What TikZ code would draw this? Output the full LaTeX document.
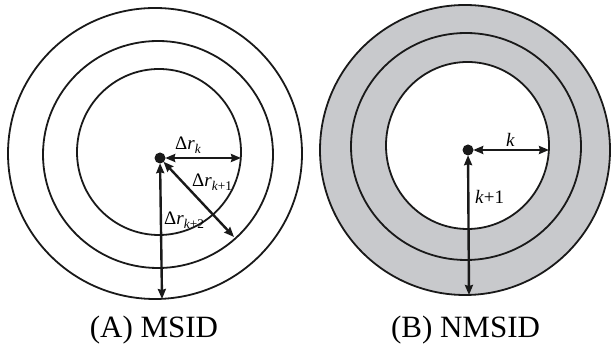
\documentclass[tikz,border=0pt]{standalone}
\usepackage{fontspec}
\setmainfont{Liberation Serif}
\usetikzlibrary{arrows.meta}
\definecolor{ringgray}{RGB}{200,201,204}
\tikzset{
  ring/.style={line width=1.8pt, draw=black!90},
  dotnode/.style={circle, fill=black!90, inner sep=0pt, minimum size=11pt},
  dimarrow/.style={line width=2.4pt, draw=black!90, {Stealth[length=10pt,width=8pt,inset=1pt]}-{Stealth[length=10pt,width=8pt,inset=1pt]}, shorten <=-0.5pt},
  lbl/.style={font=\fontsize{19}{21}\selectfont, inner sep=0pt, anchor=base west},
  caption/.style={font=\fontsize{31}{34}\selectfont, inner sep=0pt, anchor=base}
}
\begin{document}
\begin{tikzpicture}[x=1pt,y=1pt]
\useasboundingbox (0,0) rectangle (612,344);
% ---- (A) MSID ----
\draw[ring] (155,190.5) ellipse [x radius=147pt, y radius=145.5pt];
\draw[ring] (158,189.5) ellipse [x radius=115pt, y radius=113.5pt];
\draw[ring] (159,192) ellipse [x radius=82pt, y radius=83pt];
\node[dotnode] (dA) at (160,186) {};
\coordinate (eA1) at (241,186);
\coordinate (eA2) at (234,107);
\coordinate (eA3) at (162,45);
\draw[dimarrow] (dA) -- (eA1);
\draw[dimarrow] (dA) -- (eA2);
\draw[dimarrow] (dA) -- (eA3);
\node[lbl] (lA1) at (175,194) {Δ\textit{r}\textsubscript{\textit{k}}};
\node[lbl] (lA2) at (192,157) {Δ\textit{r}\textsubscript{\textit{k}+1}};
\node[lbl] (lA3) at (164,119) {Δ\textit{r}\textsubscript{\textit{k}+2}};
\node[caption] (capA) at (154,6) {(A) MSID};
% ---- (B) NMSID ----
\fill[ringgray] (465,194) ellipse [x radius=145pt, y radius=145pt];
\fill[white] (467.5,198.5) ellipse [x radius=81.5pt, y radius=83.5pt];
\draw[ring] (465,194) ellipse [x radius=145pt, y radius=145pt];
\draw[ring] (466,197.5) ellipse [x radius=115pt, y radius=113.5pt];
\draw[ring] (467.5,198.5) ellipse [x radius=81.5pt, y radius=83.5pt];
\node[dotnode] (dB) at (468,194) {};
\coordinate (eB1) at (549,194);
\coordinate (eB2) at (469,49);
\draw[dimarrow] (dB) -- (eB1);
\draw[dimarrow] (dB) -- (eB2);
\node[lbl, anchor=base] (lB1) at (510.5,197) {\textit{k}};
\node[lbl] (lB2) at (475,140) {\textit{k}+1};
\node[caption] (capB) at (465.5,6) {(B) NMSID};
\end{tikzpicture}
\end{document}
